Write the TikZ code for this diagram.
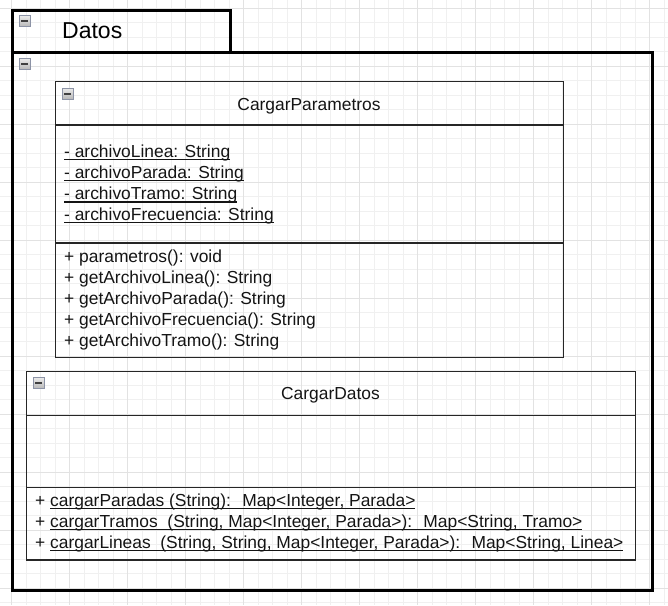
\documentclass[tikz,border=0pt]{standalone}
\usepackage{fontspec}
\setmainfont{Liberation Sans}
\newcommand{\myul}[1]{\setbox0\hbox{#1}\rlap{\vrule height -1.5pt depth 2.7pt width \wd0}\box0}
\definecolor{gridminor}{HTML}{F0F0F0}
\definecolor{gridmajor}{HTML}{E2E2E2}
\definecolor{iconborder}{HTML}{8C93A6}
\tikzset{
  minorline/.style={draw=gridminor, line width=0.8pt},
  majorline/.style={draw=gridmajor, line width=0.9pt},
  pkgbox/.style={draw=black, line width=3pt, anchor=north west, inner sep=0pt},
  classbox/.style={draw=black!85, line width=1.3pt, anchor=north west, inner sep=0pt},
  txt/.style={font=\fontsize{17.4}{21}\selectfont, inner sep=0pt, text=black!92},
  titletxt/.style={font=\fontsize{23}{27}\selectfont, inner sep=0pt, text=black},
  icon/.style={draw=iconborder, line width=0.8pt, minimum size=11pt, inner sep=0pt,
    top color=white!92!black, bottom color=black!28,
    path picture={\draw[line width=2pt, black!75]
      ([xshift=-3.5pt]path picture bounding box.center) --
      ([xshift=3.5pt]path picture bounding box.center);}}
}
\begin{document}
\begin{tikzpicture}[x=1pt,y=-1pt]
\useasboundingbox (0,0) rectangle (668,605);
% background grid
\foreach \i in {0,...,46} {\draw[minorline] ({-2.8+14.5*\i},0) -- ++(0,605);}
\foreach \j in {0,...,42} {\draw[minorline] (0,{-6.2+14.5*\j}) -- ++(668,0);}
\foreach \i in {0,...,11} {\draw[majorline] ({11.7+58*\i},0) -- ++(0,605);}
\foreach \j in {0,...,10} {\draw[majorline] (0,{8.3+58*\j}) -- ++(668,0);}

% package Datos
\node[pkgbox, minimum width=218pt, minimum height=42pt] (tab) at (11,9) {};
\node[pkgbox, minimum width=640pt, minimum height=538pt] (body) at (11,51) {};
\node[icon] (itab) at (24.5,21) {};
\node[icon] (ibody) at (24.5,64) {};
\node[titletxt, anchor=base west] (datos) at (62,38.3) {Datos};

% class CargarParametros
\node[classbox, minimum width=508pt, minimum height=43.3pt] (cphead) at (55,81) {};
\node[classbox, minimum width=508pt, minimum height=118pt] (cpattr) at (55,124.3) {};
\node[classbox, minimum width=508pt, minimum height=114.4pt] (cpmeth) at (55,242.3) {};
\node[icon] (icp) at (67.5,93.5) {};
\node[txt, anchor=base] (cptitle) at (309,110) {CargarParametros};
\node[txt, anchor=base west] (a1) at (64,157.3) {\myul{- archivoLinea: String}};
\node[txt, anchor=base west] (a2) at (64,178.3) {\myul{- archivoParada: String}};
\node[txt, anchor=base west] (a3) at (64,199.8) {\myul{- archivoTramo: String}};
\node[txt, anchor=base west] (a4) at (64,220.3) {\myul{- archivoFrecuencia: String}};
\node[txt, anchor=base west] (m1) at (64,262.7) {+ parametros(): void};
\node[txt, anchor=base west] (m2) at (64,283.8) {+ getArchivoLinea(): String};
\node[txt, anchor=base west] (m3) at (64,304.8) {+ getArchivoParada(): String};
\node[txt, anchor=base west] (m4) at (64,325.8) {+ getArchivoFrecuencia(): String};
\node[txt, anchor=base west] (m5) at (64,346.3) {+ getArchivoTramo(): String};

% class CargarDatos
\node[classbox, minimum width=609pt, minimum height=43.5pt] (cdhead) at (26,371) {};
\node[classbox, minimum width=609pt, minimum height=72pt] (cdattr) at (26,414.5) {};
\node[classbox, minimum width=609pt, minimum height=72.8pt] (cdmeth) at (26,486.5) {};
\node[icon] (icd) at (38.5,383) {};
\node[txt, anchor=base] (cdtitle) at (330.5,399.3) {CargarDatos};
\node[txt, anchor=base west] (d1) at (35,506.7) {+ \myul{cargarParadas (String):~ Map<Integer, Parada>}};
\node[txt, anchor=base west] (d2) at (35,527.7) {+ \myul{cargarTramos~ (String, Map<Integer, Parada>):~ Map<String, Tramo>}};
\node[txt, anchor=base west] (d3) at (35,548.3) {+ \myul{cargarLineas~ (String, String, Map<Integer, Parada>):~ Map<String, Linea>}};
\end{tikzpicture}
\end{document}
